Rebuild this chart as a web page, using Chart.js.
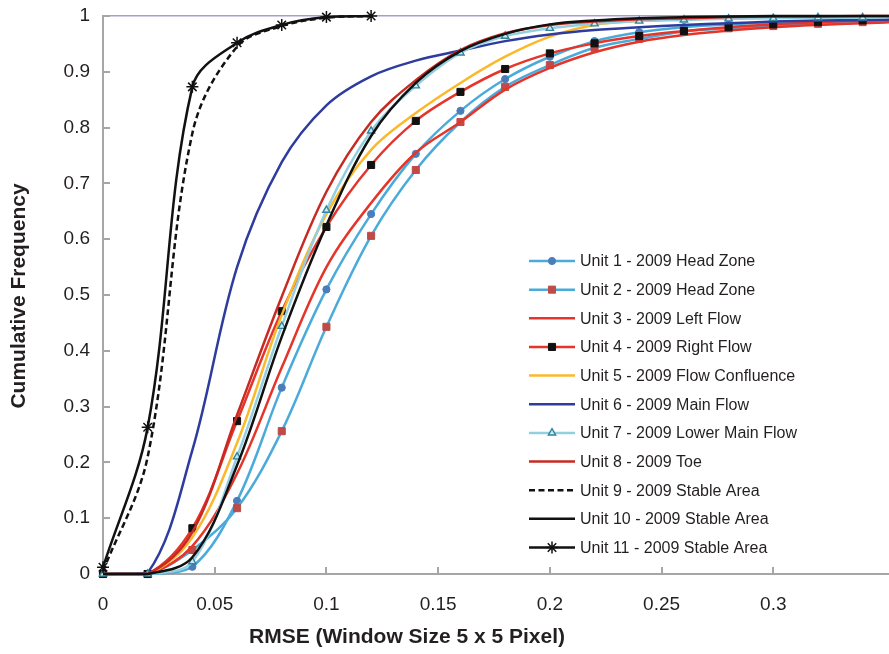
<!DOCTYPE html>
<html><head><meta charset="utf-8">
<script src="https://cdn.jsdelivr.net/npm/chart.js@4.4.1/dist/chart.umd.min.js"></script>
<style>html,body{margin:0;padding:0;background:#fff;}canvas{display:block;}</style>
</head><body>
<canvas id="c" width="889" height="654"></canvas>
<script>
// ---- data ----
const xs = [0, 0.02, 0.04, 0.06, 0.08, 0.1, 0.12, 0.14, 0.16, 0.18, 0.2, 0.22, 0.24, 0.26, 0.28, 0.3, 0.32, 0.34, 0.36];
const xsStable = [0, 0.02, 0.04, 0.06, 0.08, 0.1, 0.12];
const seriesNames = [
  'Unit 1 - 2009 Head Zone', 'Unit 2 - 2009 Head Zone', 'Unit 3 - 2009 Left Flow',
  'Unit 4 - 2009 Right Flow', 'Unit 5 - 2009 Flow Confluence', 'Unit 6 - 2009 Main Flow',
  'Unit 7 - 2009 Lower Main Flow', 'Unit 8 - 2009 Toe', 'Unit 9 - 2009 Stable Area',
  'Unit 10 - 2009 Stable Area', 'Unit 11 - 2009 Stable Area'
];
const unit1 = [0, 0, 0.013, 0.131, 0.334, 0.51, 0.645, 0.753, 0.83, 0.887, 0.927, 0.955, 0.971, 0.98, 0.985, 0.988, 0.99, 0.992, 0.993];
const unit2 = [0, 0, 0.043, 0.118, 0.256, 0.443, 0.606, 0.724, 0.81, 0.873, 0.912, 0.943, 0.959, 0.972, 0.978, 0.982, 0.986, 0.989, 0.991];
const unit3 = [0, 0, 0.05, 0.18, 0.37, 0.55, 0.665, 0.755, 0.81, 0.868, 0.907, 0.935, 0.954, 0.966, 0.974, 0.98, 0.984, 0.987, 0.99];
const unit4 = [0, 0, 0.082, 0.274, 0.471, 0.622, 0.733, 0.812, 0.864, 0.905, 0.933, 0.951, 0.964, 0.973, 0.98, 0.985, 0.989, 0.992, 0.994];
const unit5 = [0, 0, 0.066, 0.235, 0.464, 0.645, 0.76, 0.826, 0.88, 0.927, 0.963, 0.984, 0.991, 0.994, 0.996, 0.997, 0.998, 0.999, 0.999];
const unit6 = [0, 0.002, 0.222, 0.55, 0.738, 0.84, 0.892, 0.92, 0.938, 0.955, 0.967, 0.975, 0.98, 0.984, 0.987, 0.99, 0.992, 0.993, 0.994];
const unit7 = [0, 0, 0.022, 0.21, 0.444, 0.652, 0.794, 0.875, 0.934, 0.964, 0.978, 0.986, 0.991, 0.993, 0.995, 0.996, 0.997, 0.997, 0.998];
const unit8 = [0, 0, 0.075, 0.285, 0.497, 0.685, 0.81, 0.885, 0.939, 0.969, 0.984, 0.99, 0.994, 0.996, 0.998, 0.999, 0.999, 1, 1];
const unit9 = [0.005, 0.21, 0.79, 0.945, 0.982, 0.997, 1];
const unit10 = [0, 0, 0.03, 0.195, 0.425, 0.625, 0.785, 0.88, 0.937, 0.968, 0.985, 0.992, 0.996, 0.998, 0.999, 1, 1, 1, 1];
const unit11 = [0.012, 0.263, 0.873, 0.952, 0.984, 0.998, 1];
const xTickLabels = ['0', '0.05', '0.1', '0.15', '0.2', '0.25', '0.3'];
const yTickLabels = ['0', '0.1', '0.2', '0.3', '0.4', '0.5', '0.6', '0.7', '0.8', '0.9', '1'];
const xTitle = 'RMSE (Window Size 5 x 5 Pixel)';
const yTitle = 'Cumulative Frequency';

// ---- styles ----
const FONT = '"Liberation Sans", Arial, Helvetica, sans-serif';
const pts = (xv, yv) => xv.map((x, i) => ({ x: x, y: yv[i] }));
const seriesY = [unit1, unit2, unit3, unit4, unit5, unit6, unit7, unit8, unit9, unit10, unit11];
const seriesX = [xs, xs, xs, xs, xs, xs, xs, xs, xsStable, xs, xsStable];
const styles = [
  { c: '#4aabdb', ps: 'circle', pr: 3.6, pb: '#4a7ebb', pc: '#4a7ebb', pw: 1 },
  { c: '#4aabdb', ps: 'rect', pr: 5, pb: '#be4b48', pc: '#be4b48', pw: 1 },
  { c: '#e5352b' },
  { c: '#e5352b', ps: 'rect', pr: 5, pb: '#111111', pc: '#111111', pw: 1 },
  { c: '#fbb829' },
  { c: '#2e3c9e' },
  { c: '#93cfe0', ps: 'triangle', pr: 4.2, pb: '#c9e8f1', pc: '#31859c', pw: 1.4 },
  { c: '#c72a22' },
  { c: '#111111', dash: [6, 3.5] },
  { c: '#111111' },
  { c: '#111111', ps: 'star', pr: 6, pb: '#111111', pc: '#111111', pw: 1.5 }
];

const datasets = seriesNames.map((name, i) => {
  const s = styles[i];
  return {
    label: name,
    data: pts(seriesX[i], seriesY[i]),
    borderColor: s.c,
    backgroundColor: s.c,
    borderWidth: 2.5,
    borderDash: s.dash || [],
    tension: 0.35,
    fill: false,
    pointRadius: s.ps ? s.pr : 0,
    pointStyle: s.ps || 'circle',
    pointBackgroundColor: s.pb || s.c,
    pointBorderColor: s.pc || s.c,
    pointBorderWidth: s.pw || 1,
    clip: false,
    order: 11 - i
  };
});

const insideLegend = {
  id: 'insideLegend',
  afterDatasetsDraw(chart) {
    const ctx = chart.ctx;
    const x0 = 529, x1 = 575, tx = 580, y0 = 261, dy = 28.65;
    chart.data.datasets.forEach((ds, i) => {
      const y = y0 + i * dy;
      ctx.save();
      ctx.strokeStyle = ds.borderColor; ctx.lineWidth = ds.borderWidth;
      ctx.setLineDash(ds.borderDash || []);
      ctx.beginPath(); ctx.moveTo(x0, y); ctx.lineTo(x1, y); ctx.stroke();
      ctx.setLineDash([]);
      if (ds.pointRadius > 0) {
        ctx.fillStyle = ds.pointBackgroundColor; ctx.strokeStyle = ds.pointBorderColor;
        ctx.lineWidth = ds.pointBorderWidth;
        Chart.helpers.drawPoint(ctx, { pointStyle: ds.pointStyle, radius: ds.pointRadius, rotation: 0, borderWidth: ds.pointBorderWidth }, (x0 + x1) / 2, y);
      }
      ctx.fillStyle = '#231f20'; ctx.font = '16px ' + FONT;
      ctx.textBaseline = 'middle'; ctx.textAlign = 'left';
      ctx.fillText(ds.label, tx, y + 1);
      ctx.restore();
    });
  }
};

const innerTicks = {
  id: 'innerTicks',
  beforeDatasetsDraw(chart) {
    const ctx = chart.ctx, xs_ = chart.scales.x, ys_ = chart.scales.y;
    ctx.save();
    ctx.strokeStyle = '#a6a6a6'; ctx.lineWidth = 2;
    xs_.ticks.forEach(t => {
      if (t.value <= 0) return;
      const p = Math.round(xs_.getPixelForValue(t.value));
      ctx.beginPath(); ctx.moveTo(p, xs_.top); ctx.lineTo(p, xs_.top - 7); ctx.stroke();
    });
    ys_.ticks.forEach(t => {
      if (t.value <= 0) return;
      const p = Math.round(ys_.getPixelForValue(t.value));
      ctx.beginPath(); ctx.moveTo(ys_.right, p); ctx.lineTo(ys_.right + 7, p); ctx.stroke();
    });
    ctx.restore();
  }
};

const axisTitles = {
  id: 'axisTitles',
  afterDraw(chart) {
    const ctx = chart.ctx;
    ctx.save();
    ctx.fillStyle = '#231f20';
    ctx.font = 'bold 21px ' + FONT;
    ctx.textAlign = 'center'; ctx.textBaseline = 'middle';
    ctx.fillText(xTitle, 407, 637);
    ctx.translate(19, 296); ctx.rotate(-Math.PI / 2);
    ctx.fillText(yTitle, 0, 0);
    ctx.restore();
  }
};

new Chart(document.getElementById('c'), {
  type: 'line',
  data: { datasets: datasets },
  options: {
    responsive: false,
    animation: false,
    devicePixelRatio: 1,
    events: [],
    layout: { autoPadding: false, padding: { top: 16, left: 0, right: 0, bottom: 0 } },
    plugins: { legend: { display: false }, tooltip: { enabled: false } },
    scales: {
      x: {
        type: 'linear', min: 0, max: 0.3518,
        afterFit: s => { s.height = 80; s.paddingLeft = 0; s.paddingRight = 0; },
        afterBuildTicks: s => { s.ticks = s.ticks.filter(t => t.value <= 0.3 + 1e-9); },
        ticks: {
          stepSize: 0.05, padding: 19, color: '#231f20', maxRotation: 0, autoSkip: false,
          font: { family: FONT, size: 19 },
          callback: v => xTickLabels[Math.round(v / 0.05)] ?? ''
        },
        grid: { display: false, drawTicks: false },
        border: { display: true, color: '#a6a6a6', width: 2 }
      },
      y: {
        type: 'linear', min: 0, max: 1,
        afterFit: s => { s.width = 103; s.paddingTop = 0; s.paddingBottom = 0; },
        ticks: {
          stepSize: 0.1, padding: 13, color: '#231f20', autoSkip: false,
          font: { family: FONT, size: 19 },
          callback: v => yTickLabels[Math.round(v * 10)] ?? ''
        },
        grid: {
          drawTicks: false, lineWidth: 1.5,
          color: c => (c.tick && Math.abs(c.tick.value - 1) < 1e-9) ? '#a99bd0' : 'rgba(0,0,0,0)'
        },
        border: { display: true, color: '#a6a6a6', width: 2 }
      }
    }
  },
  plugins: [innerTicks, insideLegend, axisTitles]
});
</script>
</body></html>
